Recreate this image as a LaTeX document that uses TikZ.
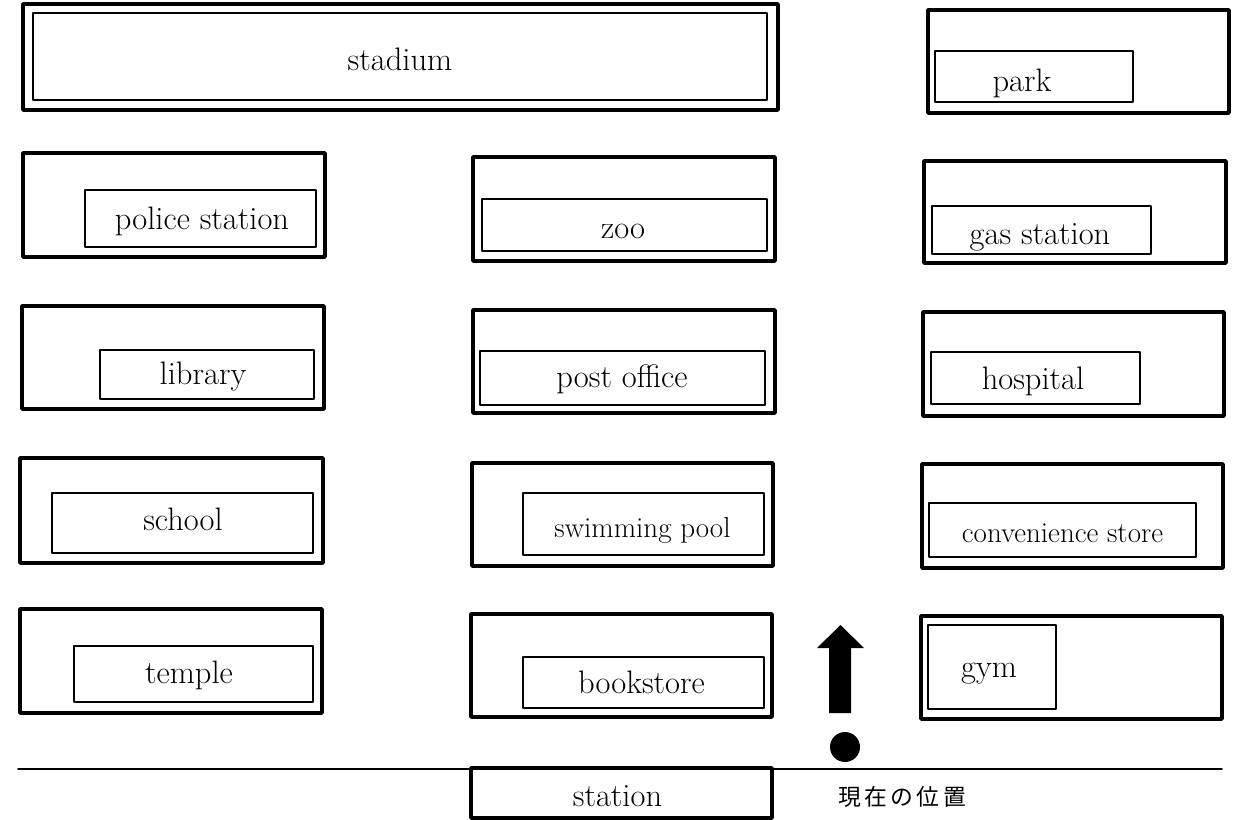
\documentclass[tikz,border=0pt]{standalone}
\usepackage{fontspec}
\usepackage{tikz}
\newfontfamily\cjk[LetterSpace=15]{Noto Sans CJK JP}

\begin{document}
\begin{tikzpicture}[line cap=round,line join=round,x=0.02cm,y=-0.02cm,
  outbox/.style={line width=2pt},
  inbox/.style={line width=1.3pt},
  lbl/.style={anchor=base,inner sep=0pt,font=\fontsize{18.5}{22}\selectfont},
  small lbl/.style={lbl,font=\fontsize{16.5}{20}\selectfont}]
\useasboundingbox (0,0) rectangle (1243,820);
% top row
\draw [outbox] (23,4) rectangle (778,110);
\draw [inbox] (33,13) rectangle (767,100);
\node[lbl] (stadium) at (400,71) {stadium};
\draw [outbox] (928,10) rectangle (1229,113);
\draw [inbox] (935,51) rectangle (1133,102);
\node[lbl] (park) at (1022,92) {park};
% second row
\draw [outbox] (23,153) rectangle (325,257);
\draw [inbox] (85,190) rectangle (316,247);
\node[lbl] (police) at (202,230) {police station};
\draw [outbox] (473,157) rectangle (775,261);
\draw [inbox] (482,199) rectangle (767,251);
\node[lbl] (zoo) at (623,239) {zoo};
\draw [outbox] (924,161) rectangle (1226,263);
\draw [inbox] (932,206) rectangle (1151,254);
\node[lbl] (gas) at (1040,245) {gas station};
% third row
\draw [outbox] (22,306) rectangle (324,409);
\draw [inbox] (100,350) rectangle (314,399);
\node[lbl] (library) at (203,385) {library};
\draw [outbox] (473,310) rectangle (775,413);
\draw [inbox] (480,351) rectangle (765,405);
\node[lbl] (post) at (622,388) {post office};
\draw [outbox] (923,312) rectangle (1224,416);
\draw [inbox] (931,352) rectangle (1140,404);
\node[lbl] (hospital) at (1033,390) {hospital};
% fourth row
\draw [outbox] (20,458) rectangle (323,563);
\draw [inbox] (52,493) rectangle (313,553);
\node[lbl] (school) at (183,530) {school};
\draw [outbox] (472,463) rectangle (773,566);
\draw [inbox] (523,493) rectangle (764,555);
\node[small lbl] (pool) at (642.5,537) {swimming pool};
\draw [outbox] (922,464) rectangle (1223,568);
\draw [inbox] (929,503) rectangle (1196,557);
\node[small lbl] (store) at (1062.5,542) {convenience store};
% fifth row
\draw [outbox] (20,609) rectangle (322,713);
\draw [inbox] (74,646) rectangle (313,702);
\node[lbl] (temple) at (189,683) {temple};
\draw [outbox] (471,614) rectangle (772,717);
\draw [inbox] (523,657) rectangle (764,708);
\node[lbl] (books) at (641.5,693) {bookstore};
\draw [outbox] (921,616) rectangle (1222,719);
\draw [inbox] (928,625) rectangle (1056,709);
\node[lbl] (gym) at (989,677) {gym};
% street, station and where we stand
\draw [line width=0.9pt] (18,769) -- (1222,769);
\draw [outbox] (471,768) rectangle (772,818);
\node[lbl] (station) at (617.5,806) {station};
\fill (829,713) -- (829,648) -- (817,648) -- (840.5,625) -- (864,648) -- (851,648) -- (851,713) -- cycle;
\fill (845,747) circle (0.3cm);
\node[font=\cjk\fontsize{13}{15}\selectfont] (here) at (902,797) {現在の位置};
\end{tikzpicture}
\end{document}
